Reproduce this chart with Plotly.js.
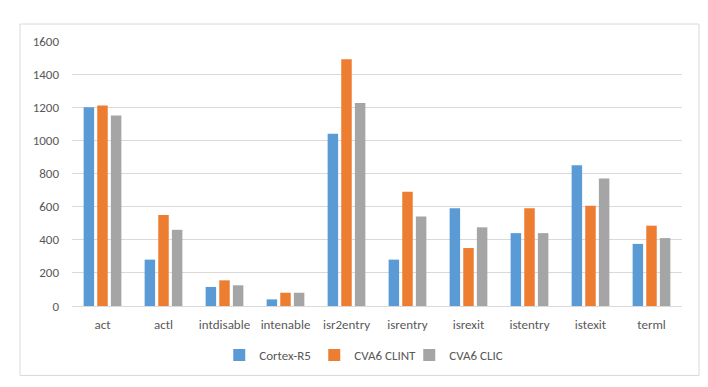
<!DOCTYPE html>
<html><head><meta charset="utf-8">
<script src="https://cdn.plot.ly/plotly-3.0.1.min.js"></script>
<style>html,body{margin:0;padding:0;background:#fff;}#chart{width:708px;height:387px;}</style>
</head><body><div id="chart"></div>
<script>
const categories = ["act","actl","intdisable","intenable","isr2entry","isrentry","isrexit","istentry","istexit","terml"];
const cortexR5 = [1200, 280, 115, 40, 1040, 280, 590, 440, 850, 375];
const cva6Clint = [1210, 550, 155, 80, 1490, 690, 350, 590, 605, 485];
const cva6Clic = [1150, 460, 125, 80, 1225, 540, 475, 440, 770, 410];
const seriesNames = ["Cortex-R5", "CVA6 CLINT", "CVA6 CLIC"];
const colors = ["#5B9BD5", "#ED7D31", "#A5A5A5"];
const yTicks = [0,200,400,600,800,1000,1200,1400,1600];

const data = [cortexR5, cva6Clint, cva6Clic].map((v,i)=>({
  type:'bar', x:categories, y:v, name:seriesNames[i], marker:{color:colors[i]}
}));
const font = {family:'Calibri, Carlito, "Liberation Sans", sans-serif', size:13, color:'#595959'};
const layout = {
  width:708, height:387,
  margin:{l:72, r:26, t:41, b:81},
  paper_bgcolor:'#fff', plot_bgcolor:'#fff',
  font: font,
  barmode:'group', bargap:0.33, bargroupgap:0.23,
  showlegend:true,
  legend:{orientation:'h', x:0.475, xanchor:'center', y:-0.185, yanchor:'middle', font:font, traceorder:'normal',
          itemwidth:30, entrywidth:50},
  xaxis:{showgrid:false, showline:true, linecolor:'#D9D9D9', linewidth:1, ticks:'', tickfont:font, fixedrange:true, ticklabelstandoff:6},
  yaxis:{range:[0,1600], tickvals:yTicks, ticktext:yTicks.map(String), showgrid:true, gridcolor:'#D9D9D9', gridwidth:1,
         zeroline:false, showline:false, ticks:'', tickfont:font, ticklabelstandoff:12},
  shapes:[{type:'rect', xref:'paper', yref:'paper', x0:-0.0852, x1:1.0279, y0:-0.262, y1:1.064,
           line:{color:'#D9D9D9', width:1}, fillcolor:'rgba(0,0,0,0)', layer:'below'}]
};
Plotly.newPlot('chart', data, layout, {displayModeBar:false, staticPlot:true});
</script></body></html>
